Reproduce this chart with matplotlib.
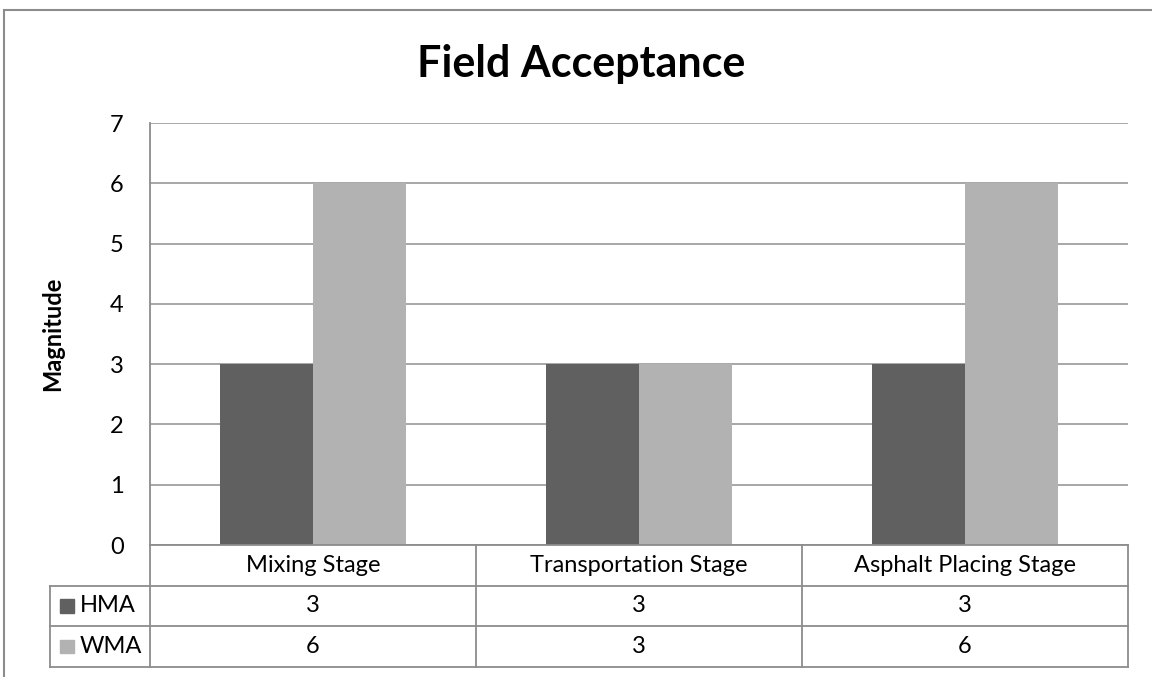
import matplotlib.pyplot as plt
from matplotlib.patches import Rectangle
import numpy as np

# Field acceptance ratings per construction stage
stages = ['Mixing Stage', 'Transportation Stage', 'Asphalt Placing Stage']
series_names = ['HMA', 'WMA']
hma = [3, 3, 3]
wma = [6, 3, 6]
colors = ['#606060', '#b2b2b2']

plt.rcParams['font.family'] = ['Lato', 'DejaVu Sans']

W, H = 1152, 677
fig = plt.figure(figsize=(W / 100, H / 100), dpi=100)

def fx(px):
    return px / W

def fy(py):
    return 1 - py / H

edge = '#8c8c8c'
fs = 17

# outer chart frame
fig.patches.append(Rectangle((fx(4), -0.1), 1.2, fy(10) + 0.1, transform=fig.transFigure,
                             fill=False, edgecolor=edge, linewidth=1.5))

# plot area
left, right, top, bottom = 150, 1128, 123, 545
ax = fig.add_axes([fx(left), fy(bottom), fx(right - left), (bottom - top) / H])
x = np.arange(len(stages))
bw = 1 / 3.5
for i, (vals, name) in enumerate(zip([hma, wma], series_names)):
    ax.bar(x + (i - 0.5) * bw, vals, bw, color=colors[i], label=name, zorder=2)

ax.set_xlim(-0.5, len(stages) - 0.5)
ax.set_ylim(0, 7)
ax.set_yticks(range(0, 8))
ax.yaxis.grid(True, color='#a0a0a0', linewidth=1.3, zorder=0)
ax.set_xticks([])
for s in ['top', 'right', 'bottom']:
    ax.spines[s].set_visible(False)
ax.spines['left'].set_color(edge)
ax.spines['left'].set_linewidth(1.3)
ax.tick_params(axis='y', length=0, pad=19, labelsize=fs)
ax.set_ylabel('Magnitude', fontsize=17, fontweight='bold')
ax.yaxis.set_label_coords((64 - left) / (right - left), 0.5)

fig.text(fx(581), fy(77), 'Field Acceptance', ha='center', va='baseline',
         fontsize=31, fontweight='bold')

# data table under the plot
leg_w = 100 / 326
tax = fig.add_axes([fx(50), fy(667), fx(right - 50), (667 - bottom) / H])
tax.set_xlim(-0.5 - leg_w, len(stages) - 0.5)
tax.set_ylim(3, 0)
tax.axis('off')
lw = 1.3
tax.plot([-0.5, len(stages) - 0.5], [0, 0], color=edge, lw=lw, clip_on=False)
for r in [1, 2, 3]:
    tax.plot([-0.5 - leg_w, len(stages) - 0.5], [r, r], color=edge, lw=lw, clip_on=False)
for c in range(len(stages) + 1):
    tax.plot([c - 0.5, c - 0.5], [0, 3], color=edge, lw=lw, clip_on=False)
tax.plot([-0.5 - leg_w] * 2, [1, 3], color=edge, lw=lw, clip_on=False)

for i, s in enumerate(stages):
    tax.text(i, 0.5, s, ha='center', va='center', fontsize=fs)
for r, (vals, name) in enumerate(zip([hma, wma], series_names)):
    for i, v in enumerate(vals):
        tax.text(i, r + 1.5, str(v), ha='center', va='center', fontsize=fs)
    tax.add_patch(Rectangle((-0.5 - leg_w + 0.031, r + 1.5 - 0.16), 0.043, 0.32,
                            color=colors[r], clip_on=False))
    tax.text(-0.5 - leg_w + 0.092, r + 1.5, name, ha='left', va='center', fontsize=fs)

fig.savefig('out.png', dpi=100)
